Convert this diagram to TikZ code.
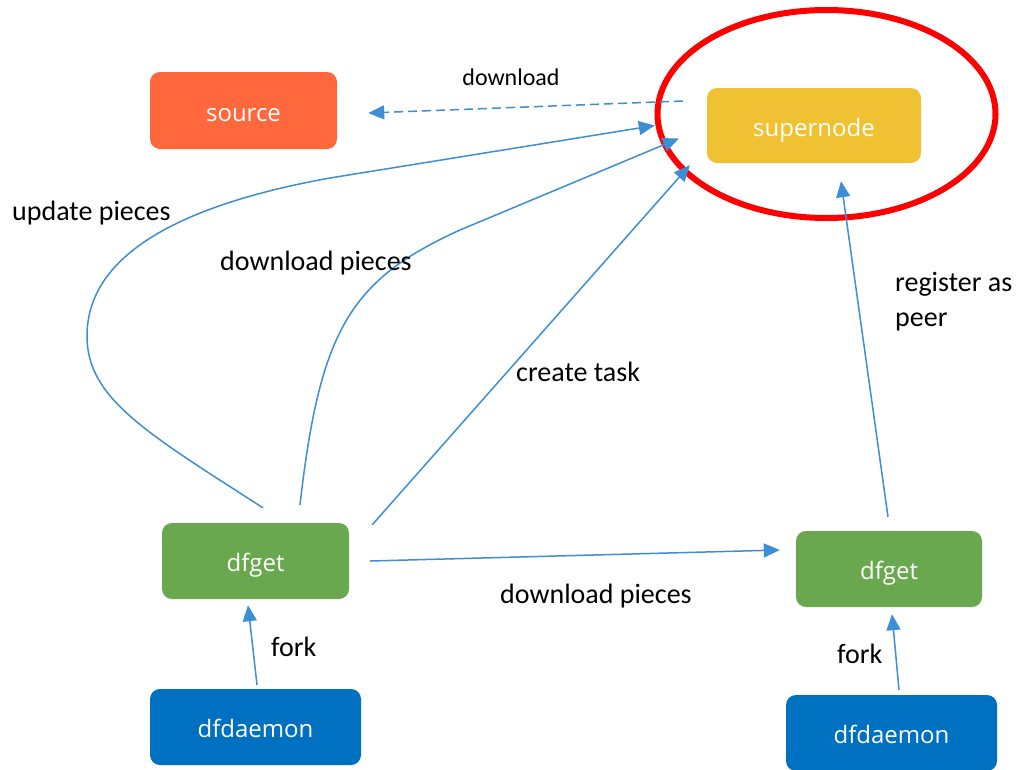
\documentclass[tikz,border=0pt]{standalone}
\usepackage{fontspec}
\setmainfont{Carlito}
\newfontfamily\boxfont{Open Sans}
\usetikzlibrary{arrows.meta,calc,shapes.geometric}

\definecolor{srcorange}{HTML}{FF673D}
\definecolor{snyellow}{HTML}{F0C233}
\definecolor{getgreen}{HTML}{6AA84F}
\definecolor{daemonblue}{HTML}{0070C0}
\definecolor{linkblue}{HTML}{3D8ED2}
\definecolor{markred}{HTML}{FF0000}

\tikzset{
  box/.style={rounded corners=10pt, inner sep=0pt, text=white,
    text height=24pt, text depth=3pt,
    font=\boxfont\fontsize{24}{28}\selectfont},
  lbl/.style={font=\fontsize{28}{34}\selectfont, anchor=base west, inner sep=0pt},
  arr/.style={draw=linkblue, line width=1.5pt,
    -{Triangle[length=16pt,width=14pt]}},
}

\begin{document}
\begin{tikzpicture}[x=1pt,y=-1pt]
\useasboundingbox (0,0) rectangle (1023,769);

% components
\node[box, fill=srcorange, minimum width=187pt, minimum height=77pt] (source) at (243.5,110.5) {source};
\node[box, fill=snyellow, minimum width=214pt, minimum height=75pt] (supernode) at (814,125.5) {supernode};
\node[box, fill=getgreen, minimum width=187pt, minimum height=76pt] (getL) at (255.5,561) {dfget};
\node[box, fill=getgreen, minimum width=186pt, minimum height=76pt] (getR) at (889,569) {dfget};
\node[box, fill=daemonblue, minimum width=211pt, minimum height=76pt] (daemonL) at (255.5,727) {dfdaemon};
\node[box, fill=daemonblue, minimum width=211pt, minimum height=76pt] (daemonR) at (891.5,733) {dfdaemon};

% highlight around the supernode
\node[draw=markred, line width=6pt, ellipse, minimum width=338pt, minimum height=208pt, inner sep=0pt] (ring) at (826.5,114) {};

% end points of the connectors
\coordinate (dlFrom) at ($(supernode.west)+(-24,-24.5)$);
\coordinate (dlTo)   at ($(source.east)+(31,2.5)$);
\coordinate (upFrom) at ($(getL.north)+(7.5,-15)$);
\coordinate (upTo)   at ($(supernode.west)+(-52,0)$);
\coordinate (pcFrom) at ($(getL.north)+(44.5,-18)$);
\coordinate (pcTo)   at ($(supernode.west)+(-28,13)$);
\coordinate (ctFrom) at ($(getL.north east)+(23,2)$);
\coordinate (ctTo)   at ($(supernode.south west)+(-17,2)$);
\coordinate (hzFrom) at ($(getL.east)+(21,0)$);
\coordinate (hzTo)   at ($(getR.west)+(-16,-19)$);
\coordinate (rgFrom) at ($(getR.north)+(-1,-14)$);
\coordinate (rgTo)   at ($(supernode.south)+(27,18)$);
\coordinate (fkLFrom) at ($(daemonL.north)+(1.5,-4)$);
\coordinate (fkLTo)   at ($(getL.south)+(-7.5,6)$);
\coordinate (fkRFrom) at ($(daemonR.north)+(7.5,-5)$);
\coordinate (fkRTo)   at ($(getR.south)+(3,7)$);

% connectors
\draw[arr, dashed, dash pattern=on 9pt off 5pt] (dlFrom) -- (dlTo);
\draw[arr] (upFrom) .. controls (145,432) and (87,398) .. (87,336)
  .. controls (87,255) and (180,205) .. (330,178) -- (upTo);
\draw[arr] (pcFrom) .. controls (320,330) and (350,280) .. (460,230) -- (pcTo);
\draw[arr] (ctFrom) -- (ctTo);
\draw[arr] (hzFrom) -- (hzTo);
\draw[arr] (rgFrom) -- (rgTo);
\draw[arr] (fkLFrom) -- (fkLTo);
\draw[arr] (fkRFrom) -- (fkRTo);

% labels
\node[lbl, font=\fontsize{24}{28}\selectfont, anchor=base] (tDl) at (511,85) {download};
\node[lbl] (tUp) at (12,220) {update pieces};
\node[lbl] (tPc) at (220,270) {download pieces};
\node[lbl] (tCt) at (516,381) {create task};
\node[lbl] (tRg1) at (895,291) {register as};
\node[lbl] (tRg2) at (895,326) {peer};
\node[lbl] (tHz) at (500,603) {download pieces};
\node[lbl] (tFkL) at (271,656) {fork};
\node[lbl] (tFkR) at (837,663) {fork};
\end{tikzpicture}
\end{document}
